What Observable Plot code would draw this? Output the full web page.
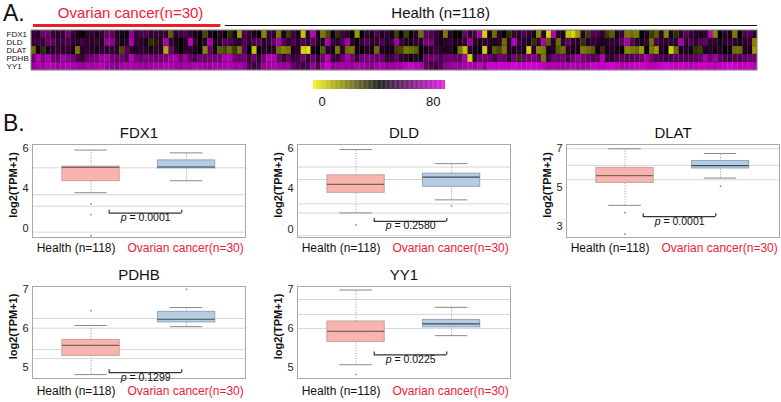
<!DOCTYPE html>
<html><head><meta charset="utf-8">
<script src="https://cdn.jsdelivr.net/npm/d3@7"></script>
<script src="https://cdn.jsdelivr.net/npm/@observablehq/plot@0.6"></script>
<style>
body{margin:0;background:#fff;font-family:"Liberation Sans",Arial,sans-serif;}
#root{position:relative;width:781px;height:402px;overflow:hidden;background:#fff;}
#root svg{position:absolute;overflow:visible;}
.letter{position:absolute;font-size:23px;line-height:23px;color:#111;}
</style></head><body><div id="root"></div>
<script>
// ---------- DATA ----------
const genes = ["FDX1", "DLD", "DLAT", "PDHB", "YY1"];
const groups = ["Health (n=118)", "Ovarian cancer(n=30)"];

// Heatmap expression (0-80 colour scale), 148 samples per gene
const FDX1_expr = [50,46,62,60,50,48,50,62,50,45,40,48,50,45,50,60,58,48,45,42,68,50,55,55,50,52,50,48,25,48,52,55,50,45,42,28,45,40,
 48,40,32,45,15,55,50,45,40,18,50,48,20,45,30,52,45,8,48,75,45,20,28,42,32,52,48,40,15,40,50,45,55,45,50,45,30,40,
 30,40,48,22,58,55,50,45,20,48,40,40,60,48,55,72,5,45,22,48,40,32,50,48,55,50,45,18,48,5,75,48,45,8,5,15,48,30,
 55,55,48,30,25,45,50,20,22,20,40,48,30,25,48,18,45,32,48,56,50,48,45,48,75,18,40,48,45,20,40,55,55,50];
const DLD_expr = [50,52,50,60,58,50,52,55,50,48,52,50,48,50,45,68,66,50,45,48,72,50,48,45,32,35,48,72,50,45,40,48,75,50,40,48,72,45,
 48,56,55,50,48,56,50,55,58,48,50,58,72,56,50,55,48,56,50,58,48,46,72,50,48,55,72,48,40,50,56,48,50,55,48,50,70,50,
 48,45,50,48,62,62,50,45,48,50,45,48,50,70,48,45,50,48,45,50,22,48,75,50,48,45,32,48,72,25,48,22,50,58,50,48,32,48,
 50,48,45,48,50,48,58,72,56,48,45,50,22,55,50,48,50,48,72,50,56,48,56,58,48,50,45,48,50,48,45,48,50,18];
const DLAT_expr = [22,45,32,45,48,50,48,50,45,20,48,50,48,45,50,48,50,48,28,58,48,45,50,48,45,50,48,12,60,48,40,48,50,45,40,18,58,45,
 25,28,22,30,20,58,40,8,40,48,45,48,22,18,20,45,48,5,3,45,40,25,48,45,20,48,22,20,45,40,48,45,22,48,45,45,30,28,
 20,22,25,40,45,48,52,48,45,48,40,20,8,48,45,40,6,45,25,28,20,48,45,50,45,6,48,18,20,45,48,25,22,48,45,45,20,22,
 25,45,32,45,48,45,40,18,20,22,15,40,20,15,48,40,6,22,45,48,45,32,30,45,48,45,48,40,45,22,22,48,45,15];
const PDHB_expr = [62,75,65,72,62,60,70,65,62,55,50,60,62,64,70,72,62,60,62,55,75,62,60,64,62,60,62,64,70,72,62,70,60,55,62,60,62,62,
 62,72,74,62,60,62,52,60,50,62,74,74,60,50,60,50,52,62,50,60,50,60,74,52,50,60,72,62,50,62,64,62,60,60,50,52,60,50,
 48,42,48,42,60,60,62,55,60,62,60,58,72,6,50,60,62,60,52,62,60,50,62,32,60,62,64,60,20,50,62,60,62,52,62,68,62,60,
 55,58,75,50,48,55,58,56,55,58,60,72,62,56,55,52,55,58,56,55,56,58,60,72,60,70,58,55,52,56,55,58,60,60];
const YY1_expr = [68,72,70,75,74,70,72,75,72,70,68,72,70,72,74,70,68,66,70,72,74,72,70,68,70,72,70,74,72,70,68,72,70,74,72,70,68,72,
 70,72,74,70,72,68,55,52,55,68,70,72,70,68,70,58,55,52,55,68,55,72,78,68,70,72,70,68,72,70,68,66,70,72,68,70,72,70,
 76,78,74,72,58,55,52,56,66,68,70,68,72,74,70,76,68,78,78,80,78,78,80,78,78,80,78,78,76,72,74,72,70,72,74,72,70,72,
 78,78,76,78,80,76,72,74,76,78,78,76,74,76,78,80,78,76,78,76,74,76,78,78,76,74,76,78,80,78,76,76,78,74];

// Header annotation spans above the heatmap (in sample columns, as drawn in the figure)
const headerLabels = ["Ovarian cancer(n=30)", "Health (n=118)"];
const headerFrom = [0.4, 39.5];
const headerTo = [38.6, 148];
const headerTextAt = [20.2, 83.4];
const colorbarTicks = [0, 80];

// Box plot statistics [min, q1, median, q3, max] per gene
const healthStats = [[3.78,4.36,5.05,5.09,5.92],[2.8,3.8,4.22,4.67,5.95],[4.1,5.25,5.62,6.02,7.0],[4.81,5.29,5.56,5.7,6.07],[5.08,5.66,5.93,6.18,6.98]];
const cancerStats = [[4.38,5.0,5.07,5.4,5.78],[3.45,4.1,4.58,4.75,5.25],[5.5,5.99,6.14,6.37,6.76],[6.04,6.15,6.23,6.42,6.53],[5.82,6.03,6.12,6.22,6.54]];
const healthOutliers = [[3.22,2.68,1.62],[2.2],[3.72,2.62],[6.45],[4.83]];
const cancerOutliers = [[],[3.15],[5.08],[7.0],[]];
const pValues = ["0.0001","0.2580","0.0001","0.1299","0.0225"];
const bracketY = [2.75, 2.38, 3.52, 4.86, 5.33];
const yTicks = [[2,4,6],[2,4,6],[3,5,7],[5,6,7],[5,6,7]];
const yTickLabels = [["0","4","6"],["0","4","6"],["3","5","7"],["5","6","7"],["5","6","7"]];
const yDomains = [[1.53,6.2],[1.58,6.2],[2.45,7.22],[4.71,7.07],[4.73,7.07]];
const gridLines = [[5.03,3.68,3.1,1.8],[5.08,4.46,3.25,2.8,1.67],[7.0,6.15,5.41],[6.25,6.0,5.45,5.22],[6.74,6.36,6.0]];

// ---------- LAYOUT / STYLE ----------
const FONT = "'Liberation Sans', Arial, Helvetica, sans-serif";
const RED = "#f0203a";
const root = document.getElementById("root");
function place(svg, left, top) { svg.style.left = left + "px"; svg.style.top = top + "px"; root.appendChild(svg); }
function letter(t, left, top) { const d = document.createElement("div"); d.className = "letter"; d.textContent = t; d.style.left = left + "px"; d.style.top = top + "px"; root.appendChild(d); }

const heatColor = {type: "linear", domain: [0, 40, 80], range: ["#f4f400", "#000000", "#d800d8"], clamp: true, interpolate: "rgb"};

// ---------- HEATMAP ----------
const heatRows = [FDX1_expr, DLD_expr, DLAT_expr, PDHB_expr, YY1_expr];
const nSamples = FDX1_expr.length;
const cells = [];
genes.forEach((g, r) => heatRows[r].forEach((v, i) => cells.push({gene: g, row: r, sample: i, value: v})));

const heat = Plot.plot({
  width: 781, height: 72, marginLeft: 31, marginRight: 24, marginTop: 0, marginBottom: 2,
  style: {fontFamily: FONT, background: "transparent", color: "#111"},
  x: {domain: [0, nSamples], axis: null},
  y: {domain: [-3.75, genes.length], reverse: true, axis: null},
  color: heatColor,
  marks: [
    Plot.rect(cells, {x1: "sample", x2: d => d.sample + 1, y1: "row", y2: d => d.row + 1, fill: "value", stroke: "#000", strokeOpacity: 0.22, strokeWidth: 0.5}),
    Plot.rect([genes], {x1: 0, x2: nSamples, y1: 0, y2: genes.length, fill: "none", stroke: "#8c8c8c", strokeWidth: 1}),
    Plot.text(genes, {x: 0, y: (d, i) => i + 0.5, text: d => d, textAnchor: "start", dx: -25, fontSize: 8, fill: "#111"}),
    Plot.ruleY([headerLabels[0]], {x1: headerFrom[0], x2: headerTo[0], y: -0.625, stroke: "#ee1c25", strokeWidth: 3}),
    Plot.ruleY([headerLabels[1]], {x1: headerFrom[1], x2: headerTo[1], y: -0.625, stroke: "#111", strokeWidth: 1.2}),
    Plot.text([headerLabels[0]], {x: headerTextAt[0], y: -2.19, text: d => d, fill: RED, fontSize: 15}),
    Plot.text([headerLabels[1]], {x: headerTextAt[1], y: -2.19, text: d => d, fill: "#111", fontSize: 15})
  ]
});
place(heat, 0, 0);

// ---------- COLOUR BAR ----------
const cbSteps = d3.range(0, 80, 0.5);
const cbar = Plot.plot({
  width: 140, height: 30, marginLeft: 4, marginRight: 4, marginTop: 0, marginBottom: 21,
  style: {fontFamily: FONT, background: "transparent", color: "#111"},
  x: {domain: [0, 80], axis: null},
  y: {domain: [0, 1], axis: null},
  color: heatColor,
  marks: [
    Plot.rect(cbSteps, {x1: d => d, x2: d => d + 0.5, y1: 0, y2: 1, fill: d => d + 0.25}),
    Plot.text([colorbarTicks[0]], {x: d => d, frameAnchor: "bottom", lineAnchor: "middle", dy: 12, dx: 5, textAnchor: "start", fontSize: 13, fill: "#111"}),
    Plot.text([colorbarTicks[1]], {x: d => d, frameAnchor: "bottom", lineAnchor: "middle", dy: 12, dx: -5, textAnchor: "end", fontSize: 13, fill: "#111"})
  ]
});
place(cbar, 309, 80);

// ---------- BOX PLOTS ----------
const colLeft = [32, 297, 566];
const rowTop = [144, 286];
const rowH = [93, 92];
const frameW = 213;
const slots = [[0,0],[0,1],[0,2],[1,0],[1,1]];

function boxPanel(k) {
  const [r, c] = slots[k];
  const fh = rowH[r];
  const dom = yDomains[k];
  const boxes = [healthStats[k], cancerStats[k]].map((s, g) => ({g, min: s[0], q1: s[1], med: s[2], q3: s[3], max: s[4]}));
  const outs = [...healthOutliers[k].map(v => ({g: 0, v})), ...cancerOutliers[k].map(v => ({g: 1, v}))];
  const hw = 0.3, cw = 0.17;
  const bx = [0.19, 0.95];
  const up = 3 * (dom[1] - dom[0]) / fh;
  const bY = bracketY[k];
  const cx = (bx[0] + bx[1]) / 2;
  const labelDy = r ? 12.5 : 11;
  const fills = ["#f8b4ad", "#b5cde3"], strokes = ["#c4a29e", "#8fa4ba"], meds = ["#7a6461", "#3f4b5a"];
  const boxMarks = [0, 1].flatMap(g => {
    const b = boxes.filter(d => d.g === g);
    return [
      Plot.ruleX(b, {x: "g", y1: "q3", y2: "max", stroke: "#9a9a9a", strokeDasharray: "1,1.6"}),
      Plot.ruleX(b, {x: "g", y1: "min", y2: "q1", stroke: "#9a9a9a", strokeDasharray: "1,1.6"}),
      Plot.ruleY(b, {y: "max", x1: d => d.g - cw, x2: d => d.g + cw, stroke: "#8a8a8a"}),
      Plot.ruleY(b, {y: "min", x1: d => d.g - cw, x2: d => d.g + cw, stroke: "#8a8a8a"}),
      Plot.rect(b, {x1: d => d.g - hw, x2: d => d.g + hw, y1: "q1", y2: "q3", fill: fills[g], stroke: strokes[g], strokeWidth: 1}),
      Plot.ruleY(b, {y: "med", x1: d => d.g - hw, x2: d => d.g + hw, stroke: meds[g], strokeWidth: 1.2})
    ];
  });
  const svg = Plot.plot({
    width: 32 + frameW + 4, height: 30 + fh + 26,
    marginLeft: 32, marginRight: 4, marginTop: 30, marginBottom: 26,
    style: {fontFamily: FONT, background: "transparent", color: "#222", fontSize: "11px"},
    x: {domain: [-0.613, 1.617], axis: null},
    y: {domain: dom, ticks: yTicks[k], tickFormat: d => yTickLabels[k][yTicks[k].indexOf(d)], tickSize: 0, tickPadding: 4, label: null},
    marks: [
      Plot.ruleY(gridLines[k], {stroke: "#d6d6d6"}),
      Plot.frame({stroke: "#a8a8a8"}),
      ...boxMarks,
      Plot.dot(outs, {x: "g", y: "v", r: 0.9, fill: "#8c8c8c", stroke: null}),
      Plot.ruleY([bY], {x1: bx[0], x2: bx[1], y: d => d, stroke: "#333", strokeWidth: 1.2}),
      Plot.ruleX(bx, {x: d => d, y1: bY, y2: bY + up, stroke: "#333", strokeWidth: 1.2}),
      Plot.text(["p"], {x: cx, y: bY, dy: 4.5, dx: -19, textAnchor: "end", fontStyle: "italic", fontSize: 10.5, fill: "#111"}),
      Plot.text([" = " + pValues[k]], {x: cx, y: bY, dy: 4.5, dx: -19, textAnchor: "start", fontSize: 10.5, fill: "#111", text: d => d}),
      Plot.text([genes[k]], {frameAnchor: "top", lineAnchor: "middle", dy: -11, fontSize: 15, fill: "#111"}),
      Plot.text(["log2(TPM+1)"], {frameAnchor: "left", textAnchor: "middle", lineAnchor: "middle", rotate: -90, dx: -19, dy: -6, fontSize: 11, fontWeight: "bold", fill: "#111"}),
      Plot.text([groups[0]], {x: 0, frameAnchor: "bottom", lineAnchor: "middle", dy: labelDy, dx: -15, fontSize: 12, fill: "#111"}),
      Plot.text([groups[1]], {x: 1, frameAnchor: "bottom", lineAnchor: "middle", dy: labelDy, dx: -1, fontSize: 12, fill: RED})
    ]
  });
  place(svg, colLeft[c] - 32, rowTop[r] - 30);
}
genes.forEach((g, k) => boxPanel(k));

letter("A.", 3, 2);
letter("B.", 3, 112);
</script></body></html>
